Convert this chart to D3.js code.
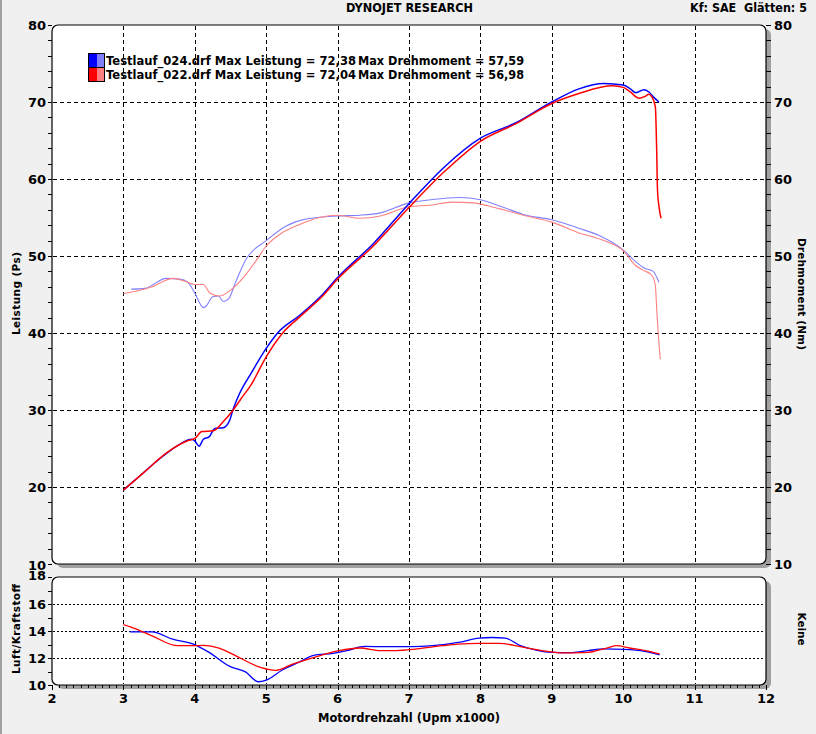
<!DOCTYPE html>
<html><head><meta charset="utf-8">
<script src="https://cdn.jsdelivr.net/npm/d3@7/dist/d3.min.js"></script>
<style>body{margin:0;background:#f0f0f0;overflow:hidden} svg{display:block}</style>
</head><body>
<svg id="c" width="816" height="734"></svg>
<script>
// ---------- DATA ----------
const xTicks = [2,3,4,5,6,7,8,9,10,11,12];
const mainTicks = [10,20,30,40,50,60,70,80];
const afrTicks = [10,12,14,16,18];
const gridX = [3,4,5,6,7,8,9,10,11];
const gridMain = [20,30,40,50,60,70];
const gridAfr = [12,14,16];

const legendNames = ["Testlauf_024.drf","Testlauf_022.drf"];
const legendPower = ["72,38","72,04"];
const legendTorque = ["57,59","56,98"];

// Leistung (Ps) – run 024 (blue)
const rpmPowerBlue = [3.0,3.2,3.5,3.8,3.95,4.0,4.06,4.12,4.2,4.28,4.4,4.49,4.53,4.63,4.79,5.0,5.16,5.47,5.8,6.0,6.5,7.0,7.5,8.0,8.5,9.0,9.38,9.73,10.0,10.1,10.18,10.29,10.36,10.43,10.5];
const powerBlue    = [19.6,21.2,23.6,25.6,26.2,26.0,25.3,26.2,26.5,27.6,27.7,28.7,29.9,32.2,34.8,38.0,40.0,42.3,45.1,47.2,51.6,56.8,61.6,65.3,67.3,70.0,71.7,72.4,72.2,71.7,71.2,71.6,71.3,70.6,70.0];
// Leistung (Ps) – run 022 (red)
const rpmPowerRed  = [3.0,3.3,3.6,3.9,4.0,4.1,4.26,4.39,4.53,4.65,4.79,5.0,5.23,5.47,5.8,6.0,6.5,7.0,7.5,8.0,8.5,9.0,9.38,9.85,10.0,10.1,10.22,10.3,10.36,10.4,10.45,10.47,10.48,10.5,10.53];
const powerRed     = [19.6,22.0,24.4,26.0,26.3,27.2,27.3,28.4,29.9,31.5,33.3,36.9,40.0,42.1,44.9,47.0,51.3,56.3,61.0,64.9,67.2,69.8,71.1,72.1,71.9,71.3,70.5,70.7,71.0,70.7,69.4,63.3,58.6,56.5,54.9];

// Drehmoment (Nm) – run 024 (light blue)
const rpmTorqueBlue = [3.11,3.3,3.6,3.79,3.9,4.0,4.12,4.16,4.25,4.33,4.4,4.47,4.58,4.72,5.0,5.28,5.56,6.0,6.31,6.6,7.0,7.3,7.7,8.0,8.3,8.6,9.0,9.38,9.7,10.0,10.17,10.3,10.42,10.5];
const torqueBlue    = [45.7,45.8,47.1,47.0,46.6,45.2,43.3,43.5,44.7,44.8,44.1,44.4,46.8,49.6,52.0,53.9,54.8,55.2,55.3,55.6,56.9,57.3,57.6,57.3,56.4,55.4,54.7,53.6,52.5,50.8,49.3,48.4,48.0,46.6];
// Drehmoment (Nm) – run 022 (light red)
const rpmTorqueRed = [3.0,3.37,3.7,3.84,4.0,4.12,4.21,4.35,4.49,4.68,4.86,5.0,5.19,5.47,5.75,6.0,6.31,6.6,7.0,7.3,7.6,7.9,8.2,8.6,9.0,9.38,9.7,10.0,10.17,10.27,10.4,10.45,10.47,10.49,10.52];
const torqueRed    = [45.1,45.9,47.1,46.8,46.3,46.3,45.2,44.8,45.5,47.2,49.4,51.3,52.8,54.1,55.0,55.3,54.9,55.2,56.4,56.6,57.0,56.9,56.3,55.3,54.4,53.0,52.1,50.7,48.8,48.2,47.5,46.2,43.0,40.0,36.6];

// Luft/Kraftstoff – run 024 (blue)
const rpmAfrBlue = [3.09,3.4,3.69,3.98,4.2,4.49,4.71,4.89,5.0,5.22,5.51,5.65,5.94,6.13,6.38,6.67,7.04,7.33,7.69,7.98,8.16,8.35,8.56,8.78,9.0,9.29,9.51,9.73,10.01,10.3,10.51];
const afrBlue    = [13.93,13.93,13.39,13.03,12.42,11.38,10.97,10.24,10.36,11.09,11.82,12.18,12.35,12.55,12.86,12.84,12.84,12.91,13.15,13.47,13.52,13.47,12.91,12.59,12.42,12.4,12.55,12.67,12.64,12.5,12.23];
// Luft/Kraftstoff – run 022 (red)
const rpmAfrRed = [3.0,3.1,3.4,3.76,3.98,4.13,4.34,4.63,4.93,5.14,5.36,5.65,6.02,6.31,6.6,6.82,7.11,7.47,7.69,7.98,8.27,8.56,8.86,9.15,9.51,9.77,9.91,10.09,10.31,10.51];
const afrRed    = [14.48,14.3,13.64,12.91,12.91,12.93,12.74,12.01,11.28,11.09,11.53,12.01,12.55,12.74,12.55,12.55,12.67,12.91,13.03,13.08,13.08,12.84,12.55,12.38,12.42,12.74,12.91,12.74,12.55,12.3];

// ---------- CHART ----------
const svg = d3.select("#c");
const FONT = "'DejaVu Sans', Verdana, sans-serif";
const COND = "'DejaVu Sans Condensed', 'DejaVu Sans', sans-serif";

const x = d3.scaleLinear().domain([2,12]).range([52,766]);
const yMain = d3.scaleLinear().domain([10,80]).range([564,25]);
const yAfr = d3.scaleLinear().domain([10,18]).range([685,577]);

const L = x(2), R = x(12);
const mainTop = yMain(80), mainBot = yMain(10);
const afrTop = yAfr(18), afrBot = yAfr(10);

// left edge stripe
svg.append("rect").attr("x",0).attr("y",0).attr("width",2).attr("height",734).attr("fill","#a0a0a0");

// panels with shadow
function panel(t, b){
  svg.append("rect").attr("x",L+5).attr("y",t+4).attr("width",R-L).attr("height",b-t)
    .attr("rx",6).attr("fill","#a0a0a0");
  svg.append("rect").attr("x",L).attr("y",t).attr("width",R-L).attr("height",b-t)
    .attr("rx",6).attr("fill","#ffffff").attr("stroke","#000").attr("stroke-width",1.2);
}
panel(mainTop, mainBot);
panel(afrTop, afrBot);

// grids
const g = svg.append("g").attr("stroke","#000").attr("stroke-width",1).attr("shape-rendering","crispEdges");
g.selectAll(".gx1").data(gridX).join("line")
  .attr("x1",d=>Math.round(x(d))+0.5).attr("x2",d=>Math.round(x(d))+0.5)
  .attr("y1",mainTop+1).attr("y2",mainBot-1).attr("stroke-dasharray","4,3");
g.selectAll(".gy1").data(gridMain).join("line")
  .attr("y1",d=>Math.round(yMain(d))+0.5).attr("y2",d=>Math.round(yMain(d))+0.5)
  .attr("x1",L+1).attr("x2",R-1).attr("stroke-dasharray","4,3");
g.selectAll(".gx2").data(gridX).join("line")
  .attr("x1",d=>Math.round(x(d))+0.5).attr("x2",d=>Math.round(x(d))+0.5)
  .attr("y1",afrTop+1).attr("y2",afrBot-1).attr("stroke-dasharray","4,3");
g.selectAll(".gy2").data(gridAfr).join("line")
  .attr("y1",d=>Math.round(yAfr(d))+0.5).attr("y2",d=>Math.round(yAfr(d))+0.5)
  .attr("x1",L+1).attr("x2",R-1).attr("stroke-dasharray","2,2");

// tick marks
const tk = svg.append("g").attr("stroke","#000").attr("stroke-width",1).attr("shape-rendering","crispEdges");
const mainMinor = d3.range(10,80.01,2);
tk.selectAll(".tl").data(mainMinor).join("line")
  .attr("x1",L-4).attr("x2",L).attr("y1",d=>Math.round(yMain(d))+0.5).attr("y2",d=>Math.round(yMain(d))+0.5);
tk.selectAll(".tr").data(mainMinor).join("line")
  .attr("x1",R).attr("x2",R+5).attr("y1",d=>Math.round(yMain(d))+0.5).attr("y2",d=>Math.round(yMain(d))+0.5);
const afrMinor = d3.range(10,18.01,1);
tk.selectAll(".ta").data(afrMinor).join("line")
  .attr("x1",L-4).attr("x2",L).attr("y1",d=>Math.round(yAfr(d))+0.5).attr("y2",d=>Math.round(yAfr(d))+0.5);
const xMinor = d3.range(20,121,1).map(d=>d/10);
tk.selectAll(".tb").data(xMinor).join("line")
  .attr("x1",d=>Math.round(x(d))+0.5).attr("x2",d=>Math.round(x(d))+0.5)
  .attr("y1",afrBot).attr("y2",d=>afrBot+(Math.abs(d-Math.round(d))<1e-6?5:3));

// tick labels
const lab = svg.append("g").attr("font-family",FONT).attr("font-weight","bold").attr("font-size",13).attr("fill","#000");
lab.selectAll(".ll").data(mainTicks).join("text")
  .attr("x",L-6).attr("y",d=>yMain(d)+(d===10?1:0)).attr("dy","0.36em").attr("text-anchor","end").text(d=>d);
lab.selectAll(".lr").data(mainTicks).join("text")
  .attr("x",R+8).attr("y",d=>yMain(d)).attr("dy","0.36em").attr("text-anchor","start").text(d=>d);
lab.selectAll(".la").data(afrTicks).join("text")
  .attr("x",L-6).attr("y",d=>yAfr(d)-(d===18?2:0)).attr("dy","0.36em").attr("text-anchor","end").text(d=>d);
lab.selectAll(".lx").data(xTicks).join("text")
  .attr("x",d=>x(d)).attr("y",703).attr("text-anchor","middle").text(d=>d);

// titles
svg.append("text").attr("x",409.5).attr("y",12).attr("text-anchor","middle")
  .attr("font-family",COND).attr("font-weight","bold").attr("font-size",12)
  .attr("textLength",127).attr("lengthAdjust","spacingAndGlyphs").text("DYNOJET RESEARCH");
svg.append("text").attr("x",690).attr("y",12).attr("text-anchor","start")
  .attr("font-family",COND).attr("font-weight","bold").attr("font-size",12)
  .attr("textLength",117).attr("lengthAdjust","spacingAndGlyphs").text("Kf: SAE\u00A0\u00A0Glätten: 5");
svg.append("text").attr("x",318).attr("y",722).attr("text-anchor","start")
  .attr("font-family",COND).attr("font-weight","bold").attr("font-size",12.5)
  .attr("textLength",182).attr("lengthAdjust","spacingAndGlyphs").text("Motordrehzahl (Upm x1000)");

function vtext(cx, cy, rot, str, len){
  svg.append("text").attr("transform",`translate(${cx},${cy}) rotate(${rot})`)
    .attr("x",-len/2).attr("dy","0.35em")
    .attr("font-family",FONT).attr("font-weight","bold").attr("font-size",10.5)
    .attr("textLength",len).attr("lengthAdjust","spacing").text(str);
}
vtext(16, 293.5, -90, "Leistung (Ps)", 83);
vtext(802, 294, 90, "Drehmoment (Nm)", 112);
vtext(16, 629, -90, "Luft/Kraftstoff", 90);
vtext(802, 629, 90, "Keine", 33);

// curves
function drawLine(xs, ys, yScale, color, w){
  const data = xs.map((v,i)=>[v, ys[i]]);
  svg.append("path").datum(data)
    .attr("fill","none").attr("stroke",color).attr("stroke-width",w).attr("stroke-linejoin","round")
    .attr("d", d3.line().x(d=>x(d[0])).y(d=>yScale(d[1])).curve(d3.curveMonotoneX));
}
drawLine(rpmTorqueBlue, torqueBlue, yMain, "#8080ff", 1.1);
drawLine(rpmTorqueRed, torqueRed, yMain, "#ff8080", 1.1);
drawLine(rpmPowerBlue, powerBlue, yMain, "#0000ff", 1.5);
drawLine(rpmPowerRed, powerRed, yMain, "#ff0000", 1.5);
drawLine(rpmAfrBlue, afrBlue, yAfr, "#0000ff", 1.3);
drawLine(rpmAfrRed, afrRed, yAfr, "#ff0000", 1.3);

// legend
const legColors = [["#0000ff","#8080ff"],["#ff0000","#ff8080"]];
legendNames.forEach((n,i)=>{
  const y0 = 54 + i*14;
  svg.append("rect").attr("x",89).attr("y",y0).attr("width",8).attr("height",13).attr("fill",legColors[i][0]);
  svg.append("rect").attr("x",97).attr("y",y0).attr("width",7).attr("height",13).attr("fill",legColors[i][1]);
  svg.append("rect").attr("x",88.5).attr("y",y0-0.5).attr("width",16).attr("height",14)
    .attr("fill","none").attr("stroke","#000").attr("stroke-width",1);
  svg.append("text").attr("x",106).attr("y",y0+11).attr("font-family",FONT).attr("font-weight","bold")
    .attr("font-size",11.5).attr("textLength",250).attr("lengthAdjust","spacingAndGlyphs")
    .text(`${n} Max Leistung = ${legendPower[i]}`);
  svg.append("text").attr("x",358).attr("y",y0+11).attr("font-family",FONT).attr("font-weight","bold")
    .attr("font-size",11.5).attr("textLength",166).attr("lengthAdjust","spacingAndGlyphs")
    .text(`Max Drehmoment = ${legendTorque[i]}`);
});
</script>
</body></html>
